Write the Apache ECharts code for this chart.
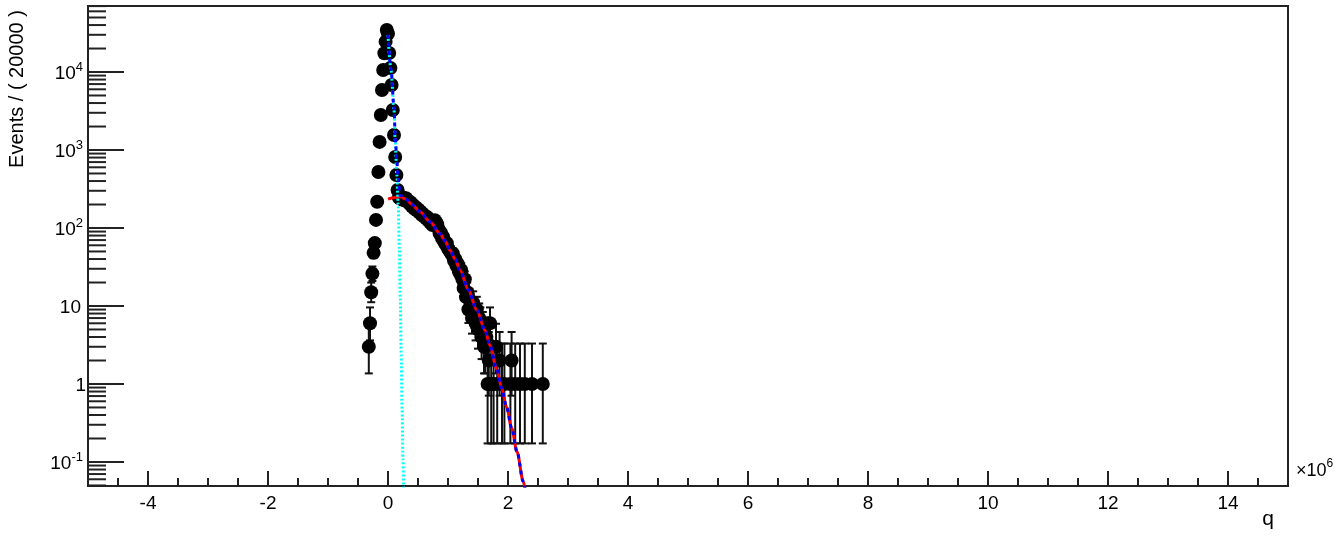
<!DOCTYPE html>
<html><head><meta charset="utf-8">
<script src="https://cdn.jsdelivr.net/npm/echarts@6/dist/echarts.min.js"></script>
<style>html,body{margin:0;padding:0;background:#fff}#c{width:1342px;height:543px}</style>
</head><body><div id="c"></div>
<script>
// ---- data (x in units of 10^6) ----
const dataX = [
 -0.32,-0.30,-0.28,-0.26,-0.24,-0.22,-0.20,-0.18,-0.16,-0.14,-0.12,-0.10,-0.08,-0.06,-0.04,-0.02,
 0.00,0.02,0.04,0.06,0.08,0.10,0.12,0.14,0.16,
 0.18,0.20,0.22,0.24,0.26,0.28,0.30,0.32,0.34,0.36,0.38,0.40,0.42,0.44,0.46,0.48,0.50,0.52,0.54,0.56,
 0.58,0.60,0.62,0.64,0.66,0.68,0.70,0.72,0.74,0.76,0.78,0.80,0.82,0.84,0.86,0.88,0.90,0.92,0.94,0.96,
 0.98,1.00,1.02,1.04,1.06,1.08,1.10,1.12,1.14,1.16,1.18,1.20,1.22,1.24,
 1.26,1.28,1.30,1.32,1.34,1.36,1.38,1.40,1.42,1.44,1.46,1.48,1.50,1.52,1.54,1.56,1.58,1.60,1.62,1.64,
 1.66,1.68,1.70,1.72,1.76,1.80,1.82,1.86,1.90,1.94,2.04,2.06,2.12,2.20,2.28,2.40,2.58
];
const dataN = [
 3,6,15,26,48,64,127,217,523,1270,2810,5880,10600,17400,24500,34500,
 31000,17500,11250,6800,3260,1555,813,478,307,
 245,238,252,231,242,226,241,219,224,205,212,189,197,176,185,168,174,159,163,148,
 152,140,143,131,137,124,118,121,109,117,126,119,112,98,85,88,74,77,66,62,
 64,55,52,49,46,47,38,40,33,35,28,26,29,22,
 17,22,13,15,9,12,10,7,11,8,6,9,5,7,6,4,5,3,3,4,
 1,2,6,1,1,3,1,2,1,1,1,2,1,1,1,1,1
];
// fitted curves
const cyanX = [0,0.05,0.10,0.12,0.145,0.17,0.19,0.205,0.22,0.235,0.25,0.262];
const cyanV = [29800,10600,3260,1340,507,200,52,11.9,2.35,0.46,0.106,0.038];
const redX  = [0,0.1,0.2,0.3,0.4,0.533,0.7,0.867,0.95,1.033,1.117,1.2,1.338,1.478,1.617,1.7,1.812,1.895,1.978,2.062,2.15,2.255,2.3];
const redV  = [235,245,252,234,200,162,120,85,68,52,40,29,16.2,8.9,4.9,3.1,1.55,0.89,0.5,0.27,0.135,0.056,0.038];
const blueX = [0,0.05,0.10,0.12,0.145,0.17,0.2,0.3,0.4,0.533,0.7,0.867,0.95,1.033,1.117,1.2,1.338,1.478,1.617,1.7,1.812,1.895,1.978,2.062,2.15,2.255,2.3];
const blueV = [30000,10800,3500,1580,760,440,262,234,200,162,120,85,68,52,40,29,16.2,8.9,4.9,3.1,1.55,0.89,0.5,0.27,0.135,0.056,0.038];
// 68% Poisson intervals for small counts
const poisLo = [0,0.173,0.708,1.367,2.086,2.840,3.620,4.419,5.232,6.057,6.891,7.738,8.591,9.448,10.31,11.18,12.05,12.92,13.80,14.68,15.57];
const poisHi = [1.841,3.300,4.638,5.918,7.163,8.382,9.584,10.77,11.95,13.11,14.27,15.42,16.56,17.70,18.83,19.96,21.08,22.20,23.32,24.44,25.55];
// y-axis tick labels (exponents of the decades) and minor tick mantissas
const yLabelExps = [-1,0,1,2,3,4];
const yMinorMant = [2,3,4,5,6,7,8,9];
const yExps = [-2,-1,0,1,2,3,4];
const Y_MIN = 0.0492, Y_MAX = 70200;

function errs(n){ if(n<=20) return [poisLo[n],poisHi[n]]; const s=Math.sqrt(n); return [n-s, n+s+1]; }
const points = dataX.map((x,i)=>[x,dataN[i]]);
const errData = dataX.map((x,i)=>{const e=errs(dataN[i]); return [x,e[0],e[1]];});
const yMinor = [];
yExps.forEach(e=>yMinorMant.forEach(m=>{const v=m*Math.pow(10,e); if(v>Y_MIN && v<Y_MAX) yMinor.push([-5,v]);}));
const yMajor = yLabelExps.map(e=>[-5,Math.pow(10,e)]);

const INK = '#222';
function tickSeries(name,data,len){
  return {type:'custom',name:name,data:data,z:10,silent:true,
    renderItem:(p,api)=>{const c=api.coord([api.value(0),api.value(1)]);
      return {type:'rect',shape:{x:c[0],y:c[1]-1,width:len,height:2},style:{fill:INK}};}};
}
const chart = echarts.init(document.getElementById('c'), null, {renderer:'canvas'});
chart.setOption({
  animation:false,
  backgroundColor:'#fff',
  grid:{left:88,right:54,top:6,bottom:57,show:true,borderColor:INK,borderWidth:2,backgroundColor:'transparent'},
  xAxis:{type:'value',min:-5,max:15,splitNumber:10,
    axisLine:{show:true,onZero:false,lineStyle:{color:INK,width:2}},
    axisTick:{show:true,inside:true,length:15,lineStyle:{color:INK,width:2}},
    minorTick:{show:true,splitNumber:4,length:8,lineStyle:{color:INK,width:2}},
    splitLine:{show:false},
    axisLabel:{showMinLabel:false,showMaxLabel:false,margin:8,color:'#000',fontSize:19,fontFamily:'Liberation Sans',
      formatter:v=>String(v)}},
  yAxis:{type:'log',logBase:10,min:Y_MIN,max:Y_MAX,
    axisLine:{show:true,onZero:false,lineStyle:{color:INK,width:2}},
    axisTick:{show:false},splitLine:{show:false},axisLabel:{show:false}},
  series:[
    tickSeries('yminor',yMinor,18),
    tickSeries('ymajor',yMajor,36),
    {type:'custom',name:'err',data:errData,z:2,encode:{x:0,y:[1,2]},
     renderItem:(p,api)=>{const x=api.value(0);const a=api.coord([x,api.value(1)]);const b=api.coord([x,api.value(2)]);
       const st={stroke:'#111',lineWidth:2};
       return {type:'group',children:[
         {type:'line',shape:{x1:a[0],y1:a[1],x2:b[0],y2:b[1]},style:st},
         {type:'line',shape:{x1:a[0]-4,y1:a[1],x2:a[0]+4,y2:a[1]},style:st},
         {type:'line',shape:{x1:b[0]-4,y1:b[1],x2:b[0]+4,y2:b[1]},style:st}]};}},
    {type:'scatter',name:'data',data:points,symbol:'circle',symbolSize:14,itemStyle:{color:'#000',opacity:1},z:3},
    {type:'line',name:'red',data:redX.map((x,i)=>[x,redV[i]]),showSymbol:false,smooth:0.3,smoothMonotone:'x',clip:true,
     lineStyle:{color:'#ff0000',width:3},z:4},
    {type:'line',name:'cyan',data:cyanX.map((x,i)=>[x,cyanV[i]]),showSymbol:false,smooth:0.3,smoothMonotone:'x',clip:true,
     lineStyle:{color:'#00ffff',width:3,type:[2,2]},z:4},
    {type:'line',name:'blue',data:blueX.map((x,i)=>[x,blueV[i]]),showSymbol:false,smooth:0.3,smoothMonotone:'x',clip:true,
     lineStyle:{color:'#0000ff',width:3,type:[4,4]},z:5}
  ]
});
// y tick labels placed with the axis scale
const richSup = {b:{fontSize:19,fontFamily:'Liberation Sans',fill:'#000',lineHeight:22,verticalAlign:'bottom'},
                 s:{fontSize:13,fontFamily:'Liberation Sans',fill:'#000',lineHeight:22,verticalAlign:'top'}};
const labelEls = yLabelExps.map((e,i)=>{
  const p = chart.convertToPixel({xAxisIndex:0,yAxisIndex:0},[-5,Math.pow(10,e)]);
  let txt, xr;
  if(e===0){ txt='{b|1}'; xr=86; }
  else if(e===1){ txt='{b|10}'; xr=81; }
  else { txt='{b|10}{s|'+e+'}'; xr=83; }
  return {type:'text',id:'ylab'+i,x:xr,y:p[1],style:{text:txt,align:'right',verticalAlign:'middle',rich:richSup}};
});
chart.setOption({graphic:[
  {type:'text',id:'ytitle',x:17,y:89,rotation:Math.PI/2,style:{text:'Events / ( 20000 )',font:'20px "Liberation Sans"',fill:'#000',align:'center',verticalAlign:'middle'}},
  {type:'text',id:'xtitle',x:1268,y:519,style:{text:'q',font:'21px "Liberation Sans"',fill:'#000',align:'center',verticalAlign:'middle'}},
  {type:'text',id:'xexp',x:1296,y:469,style:{text:'{a|×10}{s|6}',align:'left',verticalAlign:'middle',
    rich:{a:{fontSize:18,fontFamily:'Liberation Sans',fill:'#000',lineHeight:22,verticalAlign:'bottom'},
          s:{fontSize:12,fontFamily:'Liberation Sans',fill:'#000',lineHeight:22,verticalAlign:'top'}}}}
].concat(labelEls)});
</script></body></html>
